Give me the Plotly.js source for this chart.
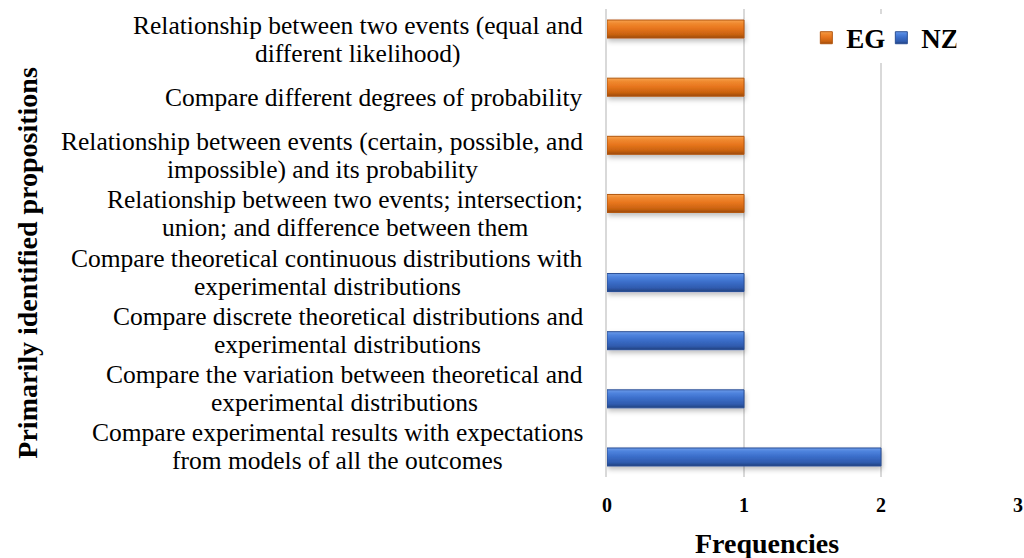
<!DOCTYPE html>
<html>
<head>
<meta charset="utf-8">
<script src="https://cdn.plot.ly/plotly-3.0.1.min.js"></script>
<style>
  html, body { margin: 0; padding: 0; background: #ffffff; }
  #chart { width: 1024px; height: 558px; }
</style>
</head>
<body>
<div id="chart"></div>
<script>
// Propositions, listed bottom to top
const categories = [
  "Compare experimental results with expectations<br>from models of all the outcomes",
  "Compare the variation between theoretical and<br>experimental distributions",
  "Compare discrete theoretical distributions and<br>experimental distributions",
  "Compare theoretical continuous distributions with<br>experimental distributions",
  "Relationship between two events; intersection;<br>union; and difference between them",
  "Relationship between events (certain, possible, and<br>impossible) and its probability",
  "Compare different degrees of probability",
  "Relationship between two events (equal and<br>different likelihood)"
];
const egValues = [null, null, null, null, 1, 1, 1, 1];
const nzValues = [2, 1, 1, 1, null, null, null, null];
const xTicks = [0, 1, 2, 3];

const serif = "Liberation Serif, Times New Roman, serif";
const labelSize = 25.5;
const labelLineGap = 28;

const traces = [
  {
    type: "bar", orientation: "h", name: "NZ",
    y: categories, x: nzValues, legendrank: 2,
    marker: { color: "#3C6FCB", line: { color: "#2A4F95", width: 1 } }
  },
  {
    type: "bar", orientation: "h", name: "EG",
    y: categories, x: egValues, legendrank: 1,
    marker: { color: "#E8761E", line: { color: "#B3560F", width: 1 } }
  }
];

// Category labels: each line is its own annotation so the lines can sit
// closer together; every block is centred on its widest line.
const measureCtx = document.createElement("canvas").getContext("2d");
measureCtx.font = labelSize + "px 'Liberation Serif'";
const labelAnnotations = [];
categories.forEach(c => {
  const lines = c.split("<br>");
  const maxW = Math.max(...lines.map(l => measureCtx.measureText(l).width));
  lines.forEach((line, i) => {
    labelAnnotations.push({
      xref: "paper", yref: "y", x: 0, y: c, xanchor: "center", yanchor: "middle",
      xshift: -24 - maxW / 2,
      yshift: ((lines.length - 1) / 2 - i) * labelLineGap,
      text: line, showarrow: false,
      font: { family: serif, size: labelSize, color: "#000" }
    });
  });
});

const layout = {
  width: 1024, height: 558,
  margin: { l: 607, r: 6, t: 9, b: 81 },
  paper_bgcolor: "#ffffff", plot_bgcolor: "#ffffff",
  barmode: "group", bargap: 0.28, bargroupgap: 0.14,
  showlegend: true,
  legend: {
    orientation: "h", x: 0.485, y: 0.99, xanchor: "left", yanchor: "top",
    font: { family: serif, size: 27, color: "#000", weight: "bold" },
    itemwidth: 30, entrywidth: 30, entrywidthmode: "pixels", tracegroupgap: 0
  },
  xaxis: {
    range: [0, 3], tickvals: xTicks, ticktext: xTicks.map(String),
    showgrid: true, gridcolor: "#d9d9d9", gridwidth: 1.5,
    zeroline: false, showline: false, ticks: "",
    tickfont: { family: serif, size: 20, color: "#000", weight: "bold" },
    ticklabelstandoff: 14,
    fixedrange: true
  },
  yaxis: {
    type: "category", categoryorder: "array", categoryarray: categories,
    showticklabels: false, ticks: "", showgrid: false,
    showline: true, linecolor: "#d9d9d9", linewidth: 2,
    zeroline: false, fixedrange: true
  },
  annotations: labelAnnotations.concat([
    {
      xref: "paper", yref: "paper", x: -1.41, y: 0.459, xanchor: "center", yanchor: "middle",
      text: "Primarily identified propositions", textangle: -90, showarrow: false,
      font: { family: serif, size: 28, color: "#000", weight: "bold" }
    },
    {
      xref: "paper", yref: "paper", x: 0.39, y: 0, yshift: -66, xanchor: "center", yanchor: "middle",
      text: "Frequencies", showarrow: false,
      font: { family: serif, size: 28, color: "#000", weight: "bold" }
    }
  ])
};

Plotly.newPlot("chart", traces, layout, { displayModeBar: false, staticPlot: true }).then(gd => {
  // Bevelled fill for the bars and legend swatches
  const svg = gd.querySelector("svg.main-svg");
  const ns = "http://www.w3.org/2000/svg";
  const defs = document.createElementNS(ns, "defs");
  const grads = {
    gEG: [["0", "#F7A250"], ["0.18", "#F08A30"], ["0.45", "#E8761E"], ["0.8", "#C9620F"], ["1", "#9C4A0C"]],
    gNZ: [["0", "#6C9BE8"], ["0.18", "#4F84DE"], ["0.45", "#3C6FCB"], ["0.8", "#2F5BAE"], ["1", "#22427F"]]
  };
  Object.entries(grads).forEach(([id, stops]) => {
    const g = document.createElementNS(ns, "linearGradient");
    g.setAttribute("id", id);
    g.setAttribute("x1", "0"); g.setAttribute("y1", "0");
    g.setAttribute("x2", "0"); g.setAttribute("y2", "1");
    stops.forEach(([o, c]) => {
      const s = document.createElementNS(ns, "stop");
      s.setAttribute("offset", o); s.setAttribute("stop-color", c);
      g.appendChild(s);
    });
    defs.appendChild(g);
  });
  const f = document.createElementNS(ns, "filter");
  f.setAttribute("id", "barShadow");
  f.setAttribute("x", "-5%"); f.setAttribute("y", "-30%");
  f.setAttribute("width", "110%"); f.setAttribute("height", "180%");
  const ds = document.createElementNS(ns, "feDropShadow");
  ds.setAttribute("dx", "1"); ds.setAttribute("dy", "3");
  ds.setAttribute("stdDeviation", "2.5");
  ds.setAttribute("flood-color", "#000"); ds.setAttribute("flood-opacity", "0.25");
  f.appendChild(ds);
  defs.appendChild(f);
  svg.insertBefore(defs, svg.firstChild);

  const traceLayers = gd.querySelectorAll(".barlayer .trace");
  traceLayers.forEach((t, i) => {
    const id = gd.data[i].name === "EG" ? "gEG" : "gNZ";
    t.querySelectorAll("path").forEach(p => {
      p.style.fill = "url(#" + id + ")";
      p.setAttribute("filter", "url(#barShadow)");
    });
  });
  gd.querySelectorAll(".legend .traces").forEach(tr => {
    const name = tr.querySelector(".legendtext").textContent;
    const id = name === "EG" ? "gEG" : "gNZ";
    tr.querySelectorAll(".legendpoints path").forEach(p => { p.style.fill = "url(#" + id + ")"; });
  });
});
</script>
</body>
</html>
